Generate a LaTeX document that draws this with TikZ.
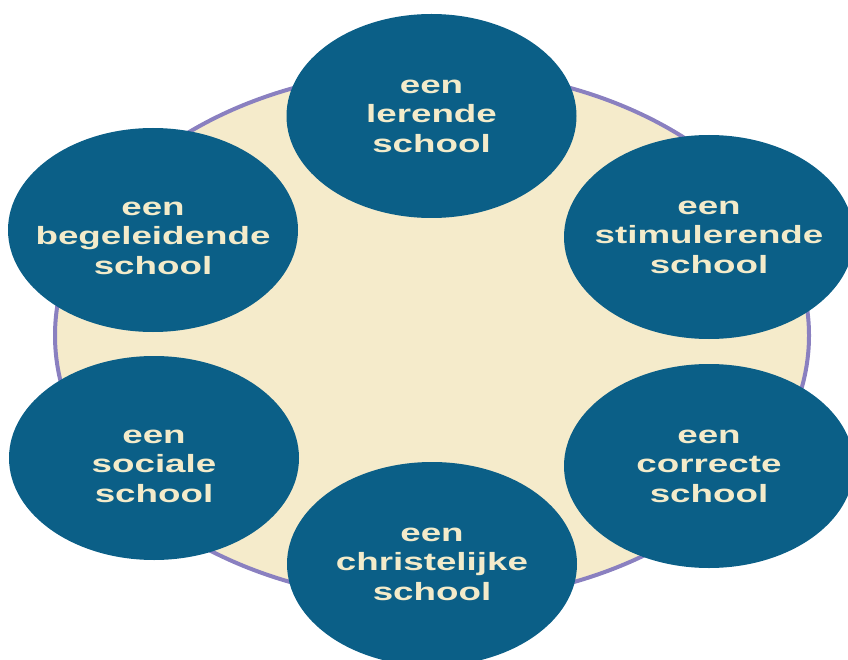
\documentclass[tikz,border=0pt]{standalone}
\usepackage{fontspec}
\usetikzlibrary{shapes.geometric}
\newfontfamily\bubblefont[FakeStretch=1.47]{Liberation Sans}
\definecolor{ringfill}{HTML}{F5EBCB}
\definecolor{ringline}{HTML}{8A80C0}
\definecolor{bubble}{HTML}{0B5F87}
\definecolor{bubbletext}{HTML}{F3EBCA}

\begin{document}
\begin{tikzpicture}[x=1pt,y=-1pt]
				\useasboundingbox (0,0) rectangle (848,660);
				\tikzstyle{every node}=[ellipse,inner sep=0pt,align=center]
				\tikzstyle{school}=[fill=bubble,minimum width=290pt,minimum height=204pt]
				\tikzstyle{label text}=[text=bubbletext,
				font=\bubblefont\bfseries\fontsize{25}{29.5}\selectfont]
				% achtergrond
				\node[name=ring,fill=ringfill,draw=ringline,line width=4pt,
				minimum width=754pt,minimum height=532pt] at (432,335.5) {};
				% de zes scholen
				\node[school,name=lerend] at (431.5,116) {};
				\node[label text,name=lerend-t] at (lerend.center) {een\\lerende\\school};
				\node[school,name=begeleid] at (153,230) {};
				\node[label text,name=begeleid-t] at (153,238) {een\\begeleidende\\school};
				\node[school,name=stimul] at (709,237) {};
				\node[label text,name=stimul-t] at (stimul.center) {een\\stimulerende\\school};
				\node[school,name=sociaal] at (154,458) {};
				\node[label text,name=sociaal-t] at (154,466) {een\\sociale\\school};
				\node[school,name=correct] at (709,466) {};
				\node[label text,name=correct-t] at (correct.center) {een\\correcte\\school};
				\node[school,name=christ] at (432,564) {};
				\node[label text,name=christ-t] at (christ.center) {een\\christelijke\\school};
\end{tikzpicture}
\end{document}
